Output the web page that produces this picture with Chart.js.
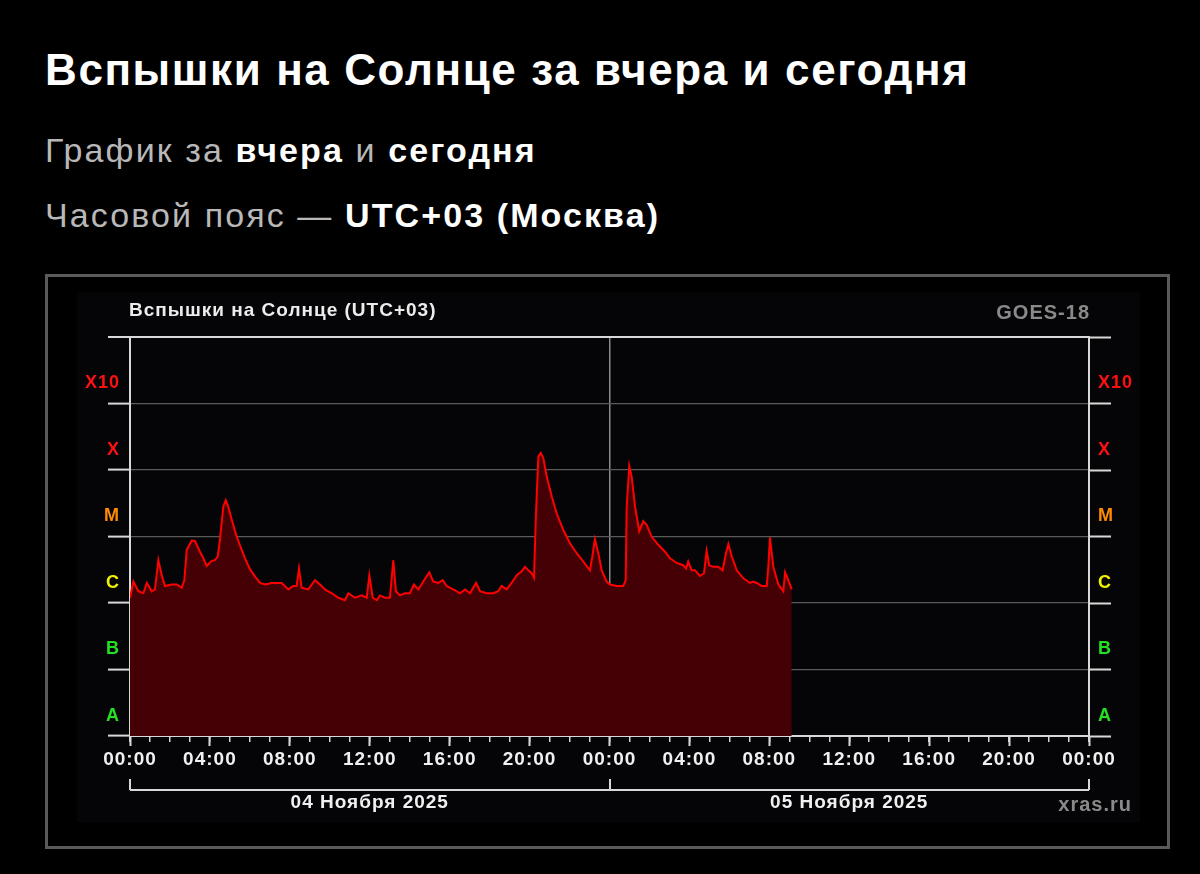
<!DOCTYPE html>
<html lang="ru">
<head>
<meta charset="utf-8">
<title>Вспышки на Солнце</title>
<script src="https://cdn.jsdelivr.net/npm/chart.js@4.4.1/dist/chart.umd.min.js"></script>
<style>
  html, body { margin: 0; padding: 0; background: #000; }
  body { width: 1200px; height: 874px; position: relative; overflow: hidden;
         font-family: "Liberation Sans", Arial, sans-serif; }
  .line { position: absolute; left: 45px; white-space: nowrap; margin: 0; }
  #h1 { top: 48px; font-size: 44px; line-height: 44px; font-weight: bold; color: #fff; letter-spacing: 1.6px; }
  #h2 { top: 133px; font-size: 34px; line-height: 34px; color: #b8b8b8; letter-spacing: 2.1px; }
  #h3 { top: 198px; font-size: 34px; line-height: 34px; color: #b8b8b8; letter-spacing: 2.1px; }
  .line b { color: #fff; }
  #frame { position: absolute; left: 45px; top: 274px; width: 1119px; height: 569px;
           border: 3px solid #5a5a5a; }
  #myChart { position: absolute; left: 77px; top: 292px; background: #050507; }
</style>
</head>
<body>
<div class="line" id="h1">Вспышки на Солнце за вчера и сегодня</div>
<div class="line" id="h2">График за <b>вчера</b> и <b>сегодня</b></div>
<div class="line" id="h3">Часовой пояс — <b>UTC+03 (Москва)</b></div>
<div id="frame"></div>
<canvas id="myChart" width="1063" height="530"></canvas>

<script>
//hours since 04 Nov 00:00 (UTC+03)
const hours = [
  0.00, 0.17, 0.42, 0.67, 0.84, 1.09, 1.25, 1.42, 1.59, 1.75, 2.09, 2.34, 2.59, 2.72, 2.84,
  3.09, 3.25, 3.50, 3.67, 3.84, 4.09, 4.25, 4.39, 4.50, 4.67, 4.79, 4.92, 5.09, 5.34, 5.59,
  5.76, 6.01, 6.26, 6.51, 6.76, 7.09, 7.34, 7.59, 7.92, 8.17, 8.34, 8.46, 8.59, 8.92, 9.26,
  9.51, 9.76, 10.10, 10.43, 10.76, 10.93, 11.26, 11.60, 11.85, 11.98, 12.15, 12.35, 12.51, 12.76, 13.01,
  13.18, 13.31, 13.51, 13.76, 14.01, 14.21, 14.43, 14.76, 14.98, 15.18, 15.43, 15.65, 15.85, 16.18, 16.52,
  16.77, 17.02, 17.32, 17.52, 17.85, 18.18, 18.43, 18.60, 18.85, 19.10, 19.35, 19.60, 19.77, 19.94, 20.11,
  20.22, 20.32, 20.44, 20.56, 20.69, 20.86, 21.11, 21.36, 21.69, 22.02, 22.36, 22.69, 23.02, 23.14, 23.27,
  23.44, 23.61, 23.86, 24.02, 24.36, 24.69, 24.81, 24.86, 24.99, 25.11, 25.28, 25.49, 25.69, 25.86, 26.11,
  26.44, 26.78, 27.03, 27.36, 27.69, 27.83, 27.94, 28.11, 28.28, 28.53, 28.73, 28.86, 28.99, 29.19, 29.44,
  29.66, 29.83, 29.95, 30.12, 30.37, 30.70, 31.03, 31.20, 31.37, 31.62, 31.87, 31.95, 32.03, 32.20, 32.45,
  32.70, 32.79, 32.95, 33.12
];

//X-ray flux, W/m2
const flux = [
  1.2e-6, 2.1e-6, 1.5e-6, 1.4e-6, 2.0e-6, 1.5e-6, 1.6e-6, 4.4e-6, 2.6e-6, 1.8e-6, 1.9e-6, 1.9e-6, 1.7e-6, 2.2e-6, 6.3e-6,
  8.7e-6, 8.6e-6, 5.9e-6, 4.7e-6, 3.6e-6, 4.3e-6, 4.4e-6, 5.0e-6, 8.9e-6, 2.8e-5, 3.5e-5, 2.8e-5, 1.8e-5, 9.9e-6, 6.3e-6,
  4.7e-6, 3.2e-6, 2.5e-6, 2.0e-6, 1.9e-6, 2.0e-6, 2.0e-6, 2.0e-6, 1.6e-6, 1.8e-6, 1.8e-6, 3.3e-6, 1.7e-6, 1.6e-6, 2.2e-6,
  1.9e-6, 1.6e-6, 1.4e-6, 1.2e-6, 1.1e-6, 1.4e-6, 1.2e-6, 1.3e-6, 1.2e-6, 2.6e-6, 1.2e-6, 1.1e-6, 1.3e-6, 1.2e-6, 1.2e-6,
  4.4e-6, 1.5e-6, 1.3e-6, 1.4e-6, 1.4e-6, 1.9e-6, 1.6e-6, 2.3e-6, 2.9e-6, 2.1e-6, 2.0e-6, 2.2e-6, 1.8e-6, 1.6e-6, 1.4e-6,
  1.6e-6, 1.4e-6, 2.0e-6, 1.5e-6, 1.4e-6, 1.4e-6, 1.5e-6, 1.8e-6, 1.6e-6, 2.0e-6, 2.6e-6, 3.0e-6, 3.5e-6, 3.1e-6, 2.8e-6,
  2.4e-6, 2.2e-5, 1.6e-4, 1.8e-4, 1.5e-4, 7.9e-5, 4.0e-5, 2.2e-5, 1.25e-5, 7.9e-6, 5.6e-6, 4.2e-6, 3.1e-6, 5.0e-6, 9.1e-6,
  5.6e-6, 3.1e-6, 2.1e-6, 1.9e-6, 1.8e-6, 1.8e-6, 2.2e-6, 2.8e-5, 1.15e-4, 7.9e-5, 2.8e-5, 1.2e-5, 1.7e-5, 1.5e-5, 9.9e-6,
  7.5e-6, 5.9e-6, 4.7e-6, 4.0e-6, 3.7e-6, 3.3e-6, 4.2e-6, 3.1e-6, 3.1e-6, 2.55e-6, 2.8e-6, 6.1e-6, 3.7e-6, 3.5e-6, 3.5e-6,
  3.1e-6, 5.6e-6, 7.7e-6, 5.0e-6, 3.1e-6, 2.35e-6, 2.0e-6, 2.1e-6, 2.0e-6, 1.8e-6, 1.8e-6, 3.5e-6, 9.7e-6, 3.5e-6, 1.9e-6,
  1.5e-6, 2.9e-6, 2.2e-6, 1.6e-6
];

//flare classes on the log axis
const classValues = [1e-8, 1e-7, 1e-6, 1e-5, 1e-4, 1e-3, 1e-2];
const classLabels = ["A", "B", "C", "M", "X", "X10", ""];
const classColors = ["#22e022", "#22e022", "#f0f000", "#ff8c00", "#ff1010", "#ff1010", "#ff1010"];

//x axis labels every 4 hours
const timeLabels = ["00:00", "04:00", "08:00", "12:00", "16:00", "20:00",
                    "00:00", "04:00", "08:00", "12:00", "16:00", "20:00", "00:00"];
const dayLabels = ["04 Ноября 2025", "05 Ноября 2025"];
const chartTitle = "Вспышки на Солнце (UTC+03)";
const satName = "GOES-18";
const siteName = "xras.ru";

const FONT = "'Liberation Sans', Arial, sans-serif";

//the original font is a bit wider, so space the letters
const wideText = {
  id: "wideText",
  beforeUpdate(chart) { chart.ctx.letterSpacing = "1px"; },
  beforeDraw(chart) { chart.ctx.letterSpacing = "1px"; },
};

//texts and the day bracket under the axis
const frameDecor = {
  id: "frameDecor",
  afterDraw(chart) {
    const ctx = chart.ctx;
    const xs = chart.scales.x;
    const area = chart.chartArea;
    ctx.save();
    ctx.textBaseline = "middle";
    ctx.font = "bold 19px " + FONT;
    ctx.fillStyle = "#ececec";
    ctx.textAlign = "left";
    ctx.fillText(chartTitle, area.left - 1, 19);
    ctx.fillStyle = "#8a8a8a";
    ctx.textAlign = "right";
    ctx.font = "bold 20px " + FONT;
    ctx.fillText(satName, area.right + 1, 21);
    ctx.fillText(siteName, area.right + 43, 513);

    //bracket
    const yb = 498;
    ctx.strokeStyle = "#d8d8d8";
    ctx.lineWidth = 2;
    ctx.beginPath();
    ctx.moveTo(xs.getPixelForValue(0), yb);
    ctx.lineTo(xs.getPixelForValue(48), yb);
    [0, 24, 48].forEach((h) => {
      const px = Math.round(xs.getPixelForValue(h));
      ctx.moveTo(px, yb);
      ctx.lineTo(px, yb - 11);
    });
    ctx.stroke();

    ctx.font = "bold 19px " + FONT;
    ctx.fillStyle = "#f0f0f0";
    ctx.textAlign = "center";
    ctx.fillText(dayLabels[0], xs.getPixelForValue(12), 511);
    ctx.fillText(dayLabels[1], xs.getPixelForValue(36), 511);
    ctx.restore();
  },
};

const classTicks = (scale) => {
  scale.ticks = classValues.map((v) => ({ value: v }));
};

const yTicks = (side) => ({
  font: { family: FONT, size: 18, weight: "bold" },
  color: (c) => classColors[c.index],
  padding: side === "left" ? -12 : -13,
  labelOffset: -20,
  callback: (v, i) => classLabels[i],
});

const config = {
  type: "line",
  data: {
    datasets: [
      {
        label: "GOES-18",
        data: hours.map((h, i) => ({ x: h, y: flux[i] })),
        borderColor: "#ff0000",
        borderWidth: 2,
        backgroundColor: "#440004",
        fill: "start",
        pointRadius: 0,
        tension: 0,
      },
    ],
  },
  options: {
    responsive: false,
    animation: false,
    layout: { padding: { top: 45, left: 0, right: 0, bottom: 0 } },
    plugins: { legend: { display: false }, tooltip: { enabled: false } },
    scales: {
      x: {
        type: "linear",
        position: "bottom",
        min: 0,
        max: 48,
        z: 1,
        afterFit: (s) => { s.height = 86; },
        ticks: {
          stepSize: 1,
          autoSkip: false,
          maxRotation: 0,
          maxTicksLimit: 100,
          padding: 6,
          color: "#f0f0f0",
          font: { family: FONT, size: 19, weight: "bold" },
          callback: (v) => (v % 4 === 0 ? timeLabels[v / 4] : ""),
        },
        grid: {
          color: (c) => (c.tick && c.tick.value === 24 ? "#8a8a8a" : "rgba(0,0,0,0)"),
          lineWidth: 1.5,
          tickLength: 6,
          tickColor: "#d8d8d8",
          tickWidth: 1.5,
        },
        border: { color: "#d8d8d8", width: 2 },
      },
      x2: {
        type: "linear",
        axis: "x",
        position: { y: 1e-8 },
        min: 0,
        max: 48,
        z: 1,
        ticks: { stepSize: 4, display: false },
        grid: { drawOnChartArea: false, tickLength: 10, tickColor: "#d8d8d8", tickWidth: 2 },
        border: { display: false },
      },
      y: {
        type: "logarithmic",
        position: "left",
        min: 1e-8,
        max: 1e-2,
        afterBuildTicks: classTicks,
        afterFit: (s) => { s.width = 53; },
        ticks: yTicks("left"),
        grid: {
          color: (c) => (c.index === 6 || c.index === 0 ? "#d8d8d8" : "#5a5a5a"),
          lineWidth: (c) => (c.index === 6 ? 2 : 1.2),
          tickLength: 22,
          tickColor: "#d8d8d8",
          tickWidth: 2,
        },
        border: { color: "#d8d8d8", width: 2 },
      },
      y2: {
        type: "logarithmic",
        position: "right",
        min: 1e-8,
        max: 1e-2,
        afterBuildTicks: classTicks,
        afterFit: (s) => { s.width = 51; },
        ticks: yTicks("right"),
        grid: { drawOnChartArea: false, tickLength: 22, tickColor: "#d8d8d8", tickWidth: 2 },
        border: { color: "#d8d8d8", width: 2 },
      },
    },
  },
  plugins: [wideText, frameDecor],
};

//chart with config
const myChart = new Chart(document.getElementById("myChart"), config);
</script>
</body>
</html>
